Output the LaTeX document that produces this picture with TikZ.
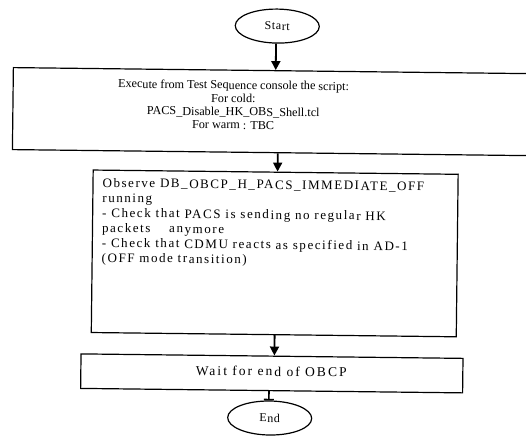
\documentclass[tikz,border=0pt]{standalone}
\usepackage{fontspec}
\setmainfont{Liberation Serif}
\newfontfamily\widefont[LetterSpace=12]{Liberation Serif}
\newfontfamily\widerfont[LetterSpace=15]{Liberation Serif}
\newfontfamily\termfont[LetterSpace=5]{Liberation Serif}
\usetikzlibrary{arrows.meta,shapes.geometric}

\begin{document}
\begin{tikzpicture}[x=1pt,y=-1pt,
  box/.style={draw, line width=1.2pt, rectangle, inner sep=0pt, anchor=north west},
  term/.style={draw, ellipse, line width=1.2pt, minimum width=84pt, minimum height=34pt,
    inner sep=0pt, font=\termfont\fontsize{12}{14}\selectfont},
  execline/.style={inner sep=0pt, anchor=base, font=\fontsize{12.2}{13.3}\selectfont},
  obsline/.style={inner sep=0pt, anchor=base west, font=\widefont\fontsize{13}{15}\selectfont},
  flow/.style={line width=1.8pt, -{Triangle[length=9pt,width=9pt]}},
]
\useasboundingbox (0,0) rectangle (526,437);
\begin{scope}[rotate around={-0.67:(270,220)}, transform shape]
  % terminals (labels sit a little left of centre)
  \node[term] (start) at (275,26) {Start\hspace{8pt}};
  \node[term] (end) at (272,418) {End\hspace{13pt}};

  % process boxes
  \node[box, minimum width=534pt, minimum height=82pt] (exec) at (11,70) {};
  \node[box, minimum width=365pt, minimum height=162.5pt] (observe) at (92,171.5) {};
  \node[box, minimum width=382pt, minimum height=34.5pt] (wait) at (82,355.5) {};

  % script box text
  \node[execline] (exec1) at (232,89.5) {Execute from Test Sequence console the script:};
  \node[execline] (exec2) at (232,102.8) {For cold:};
  \node[execline] (exec3) at (232,116.1) {PACS\_Disable\_HK\_OBS\_Shell.tcl};
  \node[execline] (exec4) at (232,129.4) {For warm : TBC};

  % observation box text
  \node[obsline] (obs1) at (102,189) {Observe DB\_OBCP\_H\_PACS\_IMMEDIATE\_OFF};
  \node[obsline] (obs2) at (102,204) {running};
  \node[obsline] (obs3) at (102,219) {- Check that PACS is sending no regular HK};
  \node[obsline] (obs4) at (102,234) {packets\hspace{14pt} anymore};
  \node[obsline] (obs5) at (102,249) {- Check that CDMU reacts as specified in AD-1};
  \node[obsline] (obs6) at (102,264) {(OFF mode transition)};

  \node[inner sep=0pt, anchor=base, font=\widerfont\fontsize{13.5}{16}\selectfont]
    (waittext) at (273,376) {Wait for end of OBCP};

  % connectors
  \coordinate (a1) at (274,0);
  \coordinate (a2) at (277,0);
  \coordinate (a3) at (276,0);
  \coordinate (a4) at (271,0);
  \draw[flow] (start.south -| a1) -- (exec.north -| a1);
  \draw[flow] (exec.south -| a2) -- (observe.north -| a2);
  \draw[flow] (observe.south -| a3) -- (wait.north -| a3);
  \draw[line width=1.6pt, -{Bar[width=10pt]}] (wait.south -| a4) -- (end.north -| a4);
\end{scope}
\end{tikzpicture}
\end{document}
